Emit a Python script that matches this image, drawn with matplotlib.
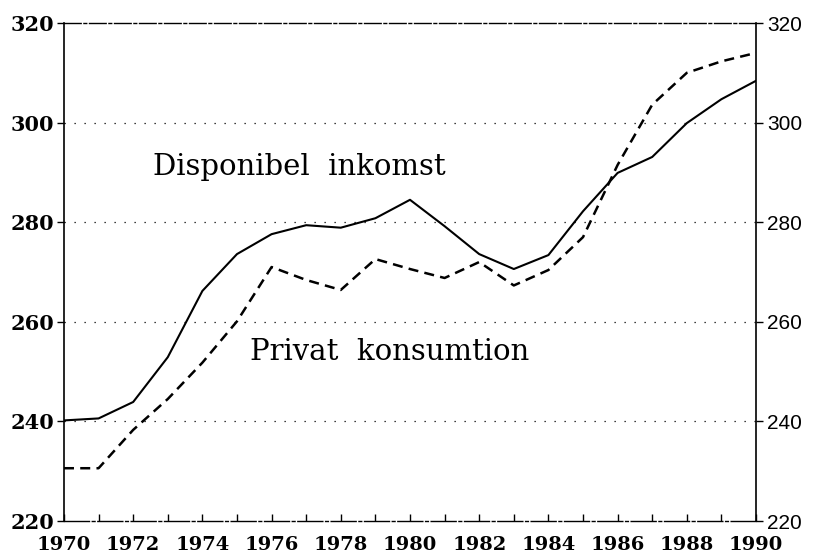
import matplotlib.pyplot as plt
import numpy as np

# Data
years = np.arange(1970, 1991)
disponibel = [240.2, 240.6, 243.9, 252.9, 266.2, 273.6, 277.6, 279.4, 278.9, 280.8,
              284.5, 279.2, 273.6, 270.6, 273.4, 282.2, 289.9, 293.1, 299.9, 304.7, 308.4]
privat = [230.6, 230.6, 238.3, 244.5, 251.8, 260.1, 271.0, 268.4, 266.4, 272.6,
          270.6, 268.8, 272.0, 267.3, 270.4, 277.0, 291.5, 303.6, 310.0, 312.3, 314.0]
xtick_years = np.arange(1970, 1991, 2)
yticks = [220, 240, 260, 280, 300, 320]

plt.rcParams['font.family'] = 'DejaVu Serif'

fig = plt.figure(figsize=(8.16, 5.57), dpi=100)
ax = fig.add_axes([0.0784, 0.0646, 0.8481, 0.8941])

ax.plot(years, disponibel, color="black", linewidth=1.5)
ax.plot(years, privat, color="black", linewidth=1.8, linestyle=(0, (4, 2.5)))

ax.set_xlim(1970, 1990)
ax.set_ylim(220, 320)

# dotted gridlines
for y in [240, 260, 280, 300]:
    ax.axhline(y, color="black", linewidth=0.9, linestyle=(0, (1, 7)))

# spines
ax.spines['left'].set_linewidth(1.2)
ax.spines['right'].set_linewidth(1.2)
ax.spines['top'].set_linewidth(1.0)
ax.spines['top'].set_linestyle((0, (12, 2, 2, 2)))
ax.spines['bottom'].set_linewidth(1.0)
ax.spines['bottom'].set_linestyle((0, (18, 2, 2, 2)))

# x ticks: every year, pointing inward, labels every 2 years
ax.set_xticks(years, minor=True)
ax.set_xticks(xtick_years)
ax.set_xticklabels([str(y) for y in xtick_years], fontweight="bold", fontsize=14)
ax.tick_params(axis="x", which="both", direction="in", length=5, width=1.0, pad=11)

# y ticks both sides
ax.set_yticks(yticks)
ax.set_yticklabels([str(v) for v in yticks], fontweight="bold", fontsize=15)
ax.tick_params(axis="y", direction="out", length=5, width=1.0, pad=2)

ax2 = ax.twinx()
ax2.set_ylim(220, 320)
ax2.set_yticks(yticks)
ax2.set_yticklabels([str(v) for v in yticks], fontsize=15, family="Liberation Sans")
ax2.tick_params(axis="y", direction="out", length=5, width=1.0, pad=3)
for s in ax2.spines.values():
    s.set_visible(False)

ax.text(1976.8, 291.0, "Disponibel  inkomst", fontsize=21, ha="center", va="center")
ax.text(1979.4, 254.0, "Privat  konsumtion", fontsize=21, ha="center", va="center")

plt.savefig("out.png", dpi=100)
